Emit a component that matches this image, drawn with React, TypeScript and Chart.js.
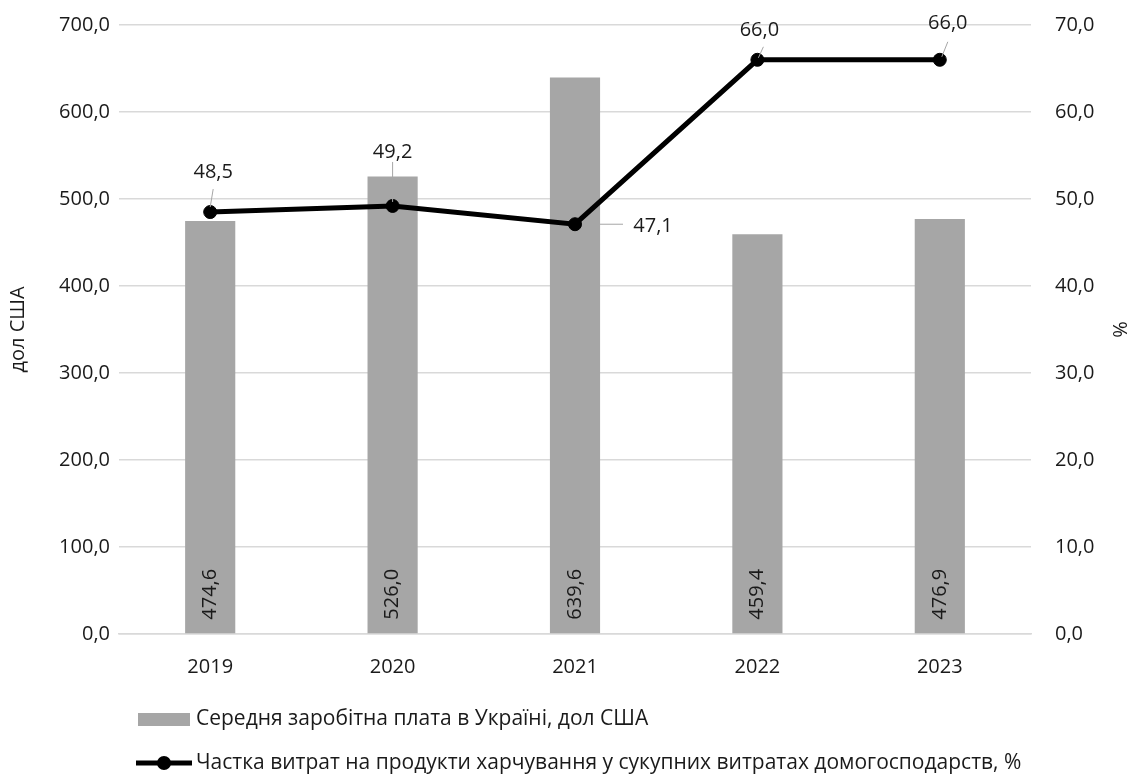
import React, { useEffect, useRef } from "react";
import { Chart, registerables } from "chart.js";

Chart.register(...registerables);

const categories = ["2019", "2020", "2021", "2022", "2023"];
const wages = [474.6, 526.0, 639.6, 459.4, 476.9];
const foodShare = [48.5, 49.2, 47.1, 66.0, 66.0];
const leftTicks = [0, 100, 200, 300, 400, 500, 600, 700];
const rightTicks = [0, 10, 20, 30, 40, 50, 60, 70];

const wageLabel = "Середня заробітна плата в Україні, дол США";
const shareLabel = "Частка витрат на продукти харчування у сукупних витратах домогосподарств, %";

// label placement style for line labels (offsets relative to point)
const lineLabelStyle = [
  { dx: 3, dy: -40, lx1: 3, ly1: -23, lx2: 0, ly2: -5 },
  { dx: 0, dy: -54, lx1: 0, ly1: -44, lx2: 0, ly2: -4 },
  { dx: 78, dy: 2, lx1: 25, ly1: 0, lx2: 48, ly2: 0 },
  { dx: 2, dy: -30, lx1: 6, ly1: -13, lx2: 1, ly2: -2 },
  { dx: 8, dy: -37, lx1: 8, ly1: -18, lx2: 2, ly2: -3 },
];

const FONT = "'Open Sans', 'Noto Sans', sans-serif";
const TEXT = "#1a1a1a";
const FS = 20;
const fmt = (v: number) => v.toFixed(1).replace(".", ",");

const labelsPlugin = {
  id: "customLabels",
  afterDatasetsDraw(chart: any) {
    const ctx = chart.ctx;
    ctx.save();
    ctx.font = `${FS}px ${FONT}`;
    ctx.fillStyle = TEXT;
    const barMeta = chart.getDatasetMeta(1);
    barMeta.data.forEach((bar: any, i: number) => {
      ctx.save();
      ctx.translate(bar.x, bar.base - 39);
      ctx.rotate(-Math.PI / 2);
      ctx.textAlign = "center";
      ctx.textBaseline = "middle";
      ctx.fillText(fmt(wages[i]), 0, 0);
      ctx.restore();
    });
    const lineMeta = chart.getDatasetMeta(0);
    lineMeta.data.forEach((pt: any, i: number) => {
      const s = lineLabelStyle[i];
      ctx.strokeStyle = "#a6a6a6";
      ctx.lineWidth = 1;
      ctx.beginPath();
      ctx.moveTo(pt.x + s.lx1, pt.y + s.ly1);
      ctx.lineTo(pt.x + s.lx2, pt.y + s.ly2);
      ctx.stroke();
      ctx.textAlign = "center";
      ctx.textBaseline = "middle";
      ctx.fillText(fmt(foodShare[i]), pt.x + s.dx, pt.y + s.dy);
    });
    ctx.restore();
  },
  afterDraw(chart: any) {
    const ctx = chart.ctx;
    ctx.save();
    ctx.font = `21px ${FONT}`;
    ctx.textBaseline = "middle";
    ctx.textAlign = "left";
    ctx.fillStyle = "#a6a6a6";
    ctx.fillRect(138, 713, 52, 13);
    ctx.fillStyle = TEXT;
    ctx.fillText(wageLabel, 196, 719);
    ctx.strokeStyle = "#000";
    ctx.lineWidth = 5;
    ctx.beginPath();
    ctx.moveTo(136, 763);
    ctx.lineTo(192, 763);
    ctx.stroke();
    ctx.fillStyle = "#000";
    ctx.beginPath();
    ctx.arc(164, 763, 7, 0, Math.PI * 2);
    ctx.fill();
    ctx.fillStyle = TEXT;
    ctx.fillText(shareLabel, 196, 763);
    ctx.restore();
  },
};

export default function App() {
  const ref = useRef<HTMLCanvasElement | null>(null);
  useEffect(() => {
    document.body.style.margin = "0";
    if (!ref.current) return;
    const chart = new Chart(ref.current, {
      type: "bar",
      data: {
        labels: categories,
        datasets: [
          {
            type: "line",
            label: shareLabel,
            data: foodShare,
            yAxisID: "y1",
            borderColor: "#000",
            backgroundColor: "#000",
            borderWidth: 5,
            pointRadius: 6.5,
            pointBorderWidth: 1,
            pointBackgroundColor: "#000",
            pointBorderColor: "#000",
            tension: 0,
            order: 0,
          } as any,
          {
            type: "bar",
            label: wageLabel,
            data: wages,
            yAxisID: "y",
            backgroundColor: "#a6a6a6",
            barPercentage: 0.275,
            categoryPercentage: 1,
            order: 1,
          },
        ],
      },
      options: {
        animation: false,
        responsive: false,
        maintainAspectRatio: false,
        layout: { padding: { top: 25, left: 0, right: 0, bottom: 0 } },
        plugins: {
          legend: { display: false },
          tooltip: { enabled: false },
        },
        scales: {
          x: {
            grid: { display: false },
            border: { color: "#d9d9d9", width: 1.5 },
            ticks: { color: TEXT, font: { family: FONT, size: FS }, padding: 13 },
            afterFit(scale: any) {
              scale.height = 141;
            },
          },
          y: {
            position: "left",
            min: 0,
            max: 700,
            afterBuildTicks(scale: any) {
              scale.ticks = leftTicks.map((v) => ({ value: v }));
            },
            grid: { color: "#d9d9d9", lineWidth: 1.5, drawTicks: false },
            border: { display: false },
            ticks: {
              color: TEXT,
              font: { family: FONT, size: FS },
              padding: 9,
              callback: (v: any) => fmt(Number(v)),
            },
            title: {
              display: true,
              text: "дол США",
              color: TEXT,
              font: { family: FONT, size: FS },
              padding: { top: 6, bottom: 4 },
            },
            afterFit(scale: any) {
              scale.width = 119;
              scale.paddingTop = 0;
              scale.paddingBottom = 0;
            },
          },
          y1: {
            position: "right",
            min: 0,
            max: 70,
            afterBuildTicks(scale: any) {
              scale.ticks = rightTicks.map((v) => ({ value: v }));
            },
            grid: { display: false, drawTicks: false },
            border: { display: false },
            ticks: {
              color: TEXT,
              font: { family: FONT, size: FS },
              padding: 24,
              callback: (v: any) => fmt(Number(v)),
            },
            title: {
              display: true,
              text: "%",
              color: TEXT,
              font: { family: FONT, size: FS },
              padding: { top: 0, bottom: 0 },
            },
            afterFit(scale: any) {
              scale.width = 100;
              scale.paddingTop = 0;
              scale.paddingBottom = 0;
            },
          },
        },
      },
      plugins: [labelsPlugin],
    });
    return () => chart.destroy();
  }, []);
  return (
    <div style={{ width: 1131, height: 775, overflow: "hidden", background: "#fff" }}>
      <canvas ref={ref} width={1131} height={775} style={{ display: "block" }} />
    </div>
  );
}
